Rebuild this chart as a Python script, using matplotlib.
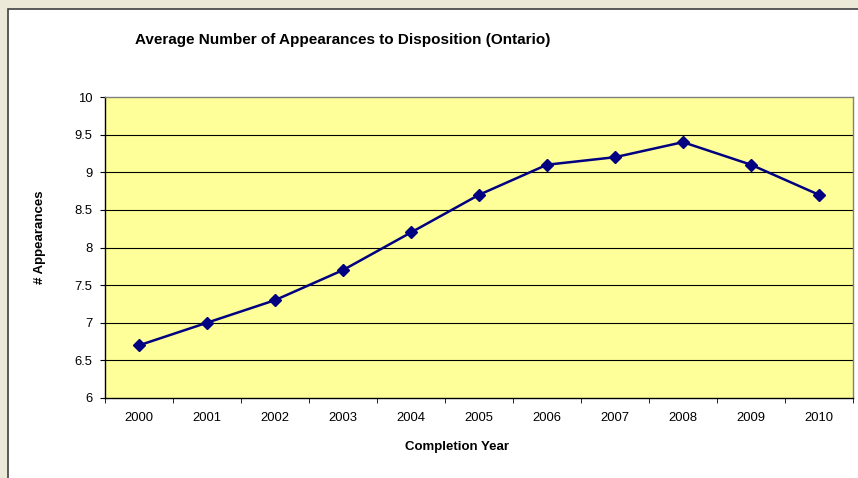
import numpy as np
import matplotlib.pyplot as plt
from matplotlib.patches import Rectangle

years = ['2000', '2001', '2002', '2003', '2004', '2005',
         '2006', '2007', '2008', '2009', '2010']
appearances = [6.7, 7.0, 7.3, 7.7, 8.2, 8.7, 9.1, 9.2, 9.4, 9.1, 8.7]
y_ticks = [6, 6.5, 7, 7.5, 8, 8.5, 9, 9.5, 10]
y_labels = ['6', '6.5', '7', '7.5', '8', '8.5', '9', '9.5', '10']

plt.rcParams['font.family'] = ['Liberation Sans', 'DejaVu Sans']

W, H = 858, 478
fig = plt.figure(figsize=(W / 100, H / 100), dpi=100)
fig.patch.set_facecolor('#ece9d8')

# white chart panel with dark border on left/top
fig.patches.append(Rectangle((8 / W, -0.1), 1.1, (H - 9) / H + 0.1,
                             transform=fig.transFigure, facecolor='white',
                             edgecolor='#404040', linewidth=1.2, zorder=-1))

ax = fig.add_axes([105 / W, 80 / H, 748 / W, 301 / H])
ax.set_zorder(1)
ax.set_facecolor('#ffff99')

x = np.arange(len(years))
ax.plot(x, appearances, color='#000080', linewidth=1.8, marker='D',
        markersize=6, zorder=3)

ax.set_xlim(-0.5, len(years) - 0.5)
ax.set_ylim(6, 10)
ax.set_yticks(y_ticks)
ax.set_yticklabels(y_labels, fontsize=9.4)
ax.set_xticks(x)
ax.set_xticklabels(years, fontsize=9.4)
ax.set_xticks(np.arange(-0.5, len(years)), minor=True)
ax.tick_params(axis='x', which='major', length=0, pad=10)
ax.tick_params(axis='x', which='minor', length=3.6, direction='out')
ax.tick_params(axis='y', length=3.6, direction='out', pad=5.5)

for v in y_ticks[1:-1]:
    ax.axhline(v, color='black', linewidth=0.8, zorder=1)

for s in ['top', 'right']:
    ax.spines[s].set_color('#808080')
    ax.spines[s].set_linewidth(1.0)
for s in ['left', 'bottom']:
    ax.spines[s].set_color('black')
    ax.spines[s].set_linewidth(1.0)

fig.text(343 / W, 1 - 40 / H, 'Average Number of Appearances to Disposition (Ontario)',
         ha='center', va='center', fontsize=11, fontweight='bold')
fig.text(457 / W, 1 - 447 / H, 'Completion Year', ha='center', va='center',
         fontsize=9.5, fontweight='bold')
fig.text(40 / W, 1 - 237 / H, '# Appearances', ha='center', va='center',
         fontsize=9.5, fontweight='bold', rotation=90)

fig.savefig('out.png', dpi=100, facecolor=fig.get_facecolor())
